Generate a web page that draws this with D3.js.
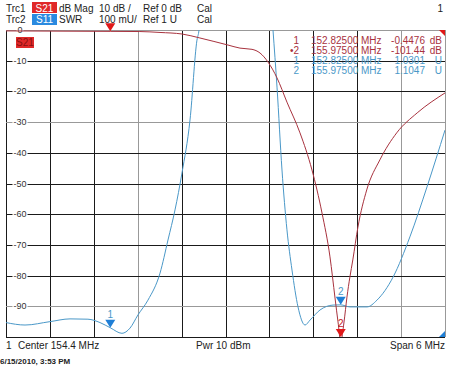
<!DOCTYPE html>
<html>
<head>
<meta charset="utf-8">
<script src="https://cdn.jsdelivr.net/npm/d3@7"></script>
<style>
  body { margin: 0; background: #fff; }
  svg { display: block; font-family: "Liberation Sans", Arial, sans-serif; }
</style>
</head>
<body>
<div id="chart"></div>
<script>
// S21 trace, frequency (MHz) and dB
const s21Freq = [151.4, 152.825, 153.23, 153.505, 153.805, 154.05, 154.434, 154.598, 154.762, 154.872,
    154.98, 155.104, 155.24, 155.418, 155.582, 155.719, 155.828, 155.897, 155.938, 155.975,
    156.02, 156.06, 156.10, 156.14, 156.21, 156.33, 156.51, 156.74, 157.02, 157.4];
const s21Db = [-0.3, -0.45, -0.5, -0.8, -1.3, -2.6, -4.9, -5.9, -6.3, -7.5,
    -10.4, -15.6, -23.5, -33.5, -45.6, -59.6, -73.9, -87.3, -95.1, -101.44,
    -95.1, -87, -80.5, -74.9, -64.2, -52.1, -42.3, -33.5, -27, -20.5];

// S11 trace, frequency (MHz) and SWR
const s11Freq = [151.4, 151.66, 152.0, 152.275, 152.52, 152.685, 152.825, 152.985, 153.095, 153.204,
    153.34, 153.505, 153.614, 153.71, 153.805, 153.915, 154.01, 154.038, 154.1, 154.5,
    154.95, 155.049, 155.104, 155.172, 155.24, 155.309, 155.391, 155.487, 155.555, 155.692,
    155.87, 155.975, 156.10, 156.334, 156.47, 156.69, 156.92, 157.154, 157.4];
const s11Swr = [1.047, 1.039, 1.050, 1.059, 1.058, 1.047, 1.0301, 1.012, 1.029, 1.072,
    1.12, 1.208, 1.316, 1.414, 1.534, 1.707, 1.967, 2.0, 2.25, 3.0,
    2.3, 2.0, 1.814, 1.544, 1.349, 1.218, 1.098, 1.039, 1.055, 1.088,
    1.104, 1.1047, 1.098, 1.098, 1.12, 1.195, 1.326, 1.489, 1.674];

const dbTicks = [0, -10, -20, -30, -40, -50, -60, -70, -80, -90];
const markerFreq = [152.825, 155.975];
const s21MarkerDb = [-0.4476, -101.44];
const s11MarkerSwr = [1.0301, 1.1047];

const width = 450, height = 374;
const pLeft = 6, pRight = 445, pTop = 30, pBottom = 337;

const red = "#a8323e", blue = "#4a98c8";

const svg = d3.select("#chart").append("svg")
    .attr("width", width)
    .attr("height", height);

svg.append("rect").attr("width", width).attr("height", height).attr("fill", "#fff");

const x = d3.scaleLinear().domain([151.4, 157.4]).range([pLeft, pRight]);
const yDb = d3.scaleLinear().domain([-100, 0]).range([pBottom, pTop]);
const ySwr = d3.scaleLinear().domain([1, 2]).range([pBottom, pTop]);

// grid
const grid = svg.append("g");
const xGrid = d3.range(11).map(i => 151.4 + i * 0.6);
grid.selectAll(".vline")
    .data(xGrid)
    .enter()
    .append("line")
    .attr("x1", d => Math.round(x(d)) + 0.5)
    .attr("x2", d => Math.round(x(d)) + 0.5)
    .attr("y1", pTop)
    .attr("y2", pBottom)
    .attr("stroke", (d, i) => (i === 3 || i === 9 || i === 10) ? "#999" : "#1a1a1a")
    .attr("stroke-width", 1);

grid.selectAll(".hline")
    .data(d3.range(0, -101, -10))
    .enter()
    .append("line")
    .attr("x1", pLeft)
    .attr("x2", pRight)
    .attr("y1", d => Math.round(yDb(d)) + 0.5)
    .attr("y2", d => Math.round(yDb(d)) + 0.5)
    .attr("stroke", d => (d === -30 || d === -90 || d === 0) ? "#999" : "#1a1a1a")
    .attr("stroke-width", 1);

// y labels
const yLab = svg.append("g");
dbTicks.forEach(d => {
    const t = yLab.append("text")
        .attr("x", 20)
        .attr("y", yDb(d) + 3)
        .attr("text-anchor", "middle")
        .attr("font-size", 9)
        .attr("fill", "#333")
        .text(d === 0 ? "0" : "-" + Math.abs(d));
    const bb = t.node().getBBox();
    yLab.insert("rect", "text")
        .attr("x", bb.x - 1)
        .attr("y", bb.y + 1)
        .attr("width", bb.width + 2)
        .attr("height", bb.height - 2)
        .attr("fill", "#fff");
});

// traces
svg.append("clipPath").attr("id", "plot")
    .append("rect")
    .attr("x", pLeft).attr("y", pTop)
    .attr("width", pRight - pLeft).attr("height", pBottom - pTop);

const line = d3.line().curve(d3.curveMonotoneX);

svg.append("path")
    .attr("clip-path", "url(#plot)")
    .attr("d", line(s11Freq.map((f, i) => [x(f), ySwr(s11Swr[i])])))
    .attr("fill", "none")
    .attr("stroke", blue)
    .attr("stroke-width", 1);

svg.append("path")
    .attr("clip-path", "url(#plot)")
    .attr("d", line(s21Freq.map((f, i) => [x(f), yDb(s21Db[i])])))
    .attr("fill", "none")
    .attr("stroke", red)
    .attr("stroke-width", 1);

// markers
function tri(cx, tipY, color) {
    svg.append("path")
        .attr("d", `M${cx - 5},${tipY - 8}L${cx + 5},${tipY - 8}L${cx},${tipY}Z`)
        .attr("fill", color);
}
tri(x(markerFreq[0]), ySwr(s11MarkerSwr[0]), "#1f7fd6");
tri(x(markerFreq[1]), ySwr(s11MarkerSwr[1]), "#1f7fd6");
svg.append("text").attr("x", x(markerFreq[0])).attr("y", ySwr(s11MarkerSwr[0]) - 10)
    .attr("text-anchor", "middle").attr("font-size", 10).attr("fill", blue).text("1");
svg.append("text").attr("x", x(markerFreq[1])).attr("y", ySwr(s11MarkerSwr[1]) - 10)
    .attr("text-anchor", "middle").attr("font-size", 10).attr("fill", blue).text("2");

tri(x(markerFreq[0]), Math.max(pTop, yDb(s21MarkerDb[0])), "#e01818");
const m2y = Math.min(pBottom, yDb(s21MarkerDb[1]));
tri(x(markerFreq[1]), m2y, "#e01818");
svg.append("text").attr("x", x(markerFreq[1])).attr("y", m2y - 10)
    .attr("text-anchor", "middle").attr("font-size", 10).attr("fill", "#c82020").text("2");

// corner indicators
svg.append("path").attr("d", `M${pRight - 6},${pTop}L${pRight},${pTop}L${pRight},${pTop + 6}Z`).attr("fill", "#e01818");
svg.append("path").attr("d", `M${pRight - 6},${pBottom}L${pRight},${pBottom}L${pRight},${pBottom - 6}Z`).attr("fill", "#1f7fd6");

// S21 tag in plot
svg.append("rect").attr("x", 16).attr("y", 37).attr("width", 18).attr("height", 11).attr("fill", "#e02828");
svg.append("text").attr("x", 25).attr("y", 46).attr("text-anchor", "middle")
    .attr("font-size", 10).attr("fill", "#8a1010").text("S21");

// header
const head = svg.append("g").attr("font-size", 10).attr("fill", "#222");
[["Trc1", 12], ["Trc2", 23]].forEach(([t, yy]) => head.append("text").attr("x", 6).attr("y", yy).text(t));
svg.append("rect").attr("x", 32).attr("y", 2).attr("width", 25).attr("height", 11).attr("fill", "#e02828");
svg.append("rect").attr("x", 32).attr("y", 14).attr("width", 25).attr("height", 11).attr("fill", "#2a8ae0");
svg.append("text").attr("x", 44.5).attr("y", 12).attr("text-anchor", "middle").attr("font-size", 10).attr("fill", "#fff").text("S21");
svg.append("text").attr("x", 44.5).attr("y", 23).attr("text-anchor", "middle").attr("font-size", 10).attr("fill", "#fff").text("S11");
const headCols = [59, 99, 143, 197];
const headRow1 = ["dB Mag", "10 dB /", "Ref 0 dB", "Cal"];
const headRow2 = ["SWR", "100 mU/", "Ref 1 U", "Cal"];
headRow1.forEach((t, i) => head.append("text").attr("x", headCols[i]).attr("y", 12).text(t));
headRow2.forEach((t, i) => head.append("text").attr("x", headCols[i]).attr("y", 23).text(t));
head.append("text").attr("x", 443).attr("y", 12).attr("text-anchor", "end").text("1");

// marker table
const table = svg.append("g").attr("font-size", 10);
const rows = [
    ["1", "152.82500", "-0.4476", "dB", red],
    ["\u20222", "155.97500", "-101.44", "dB", red],
    ["1", "152.82500", "1.0301", "U", blue],
    ["2", "155.97500", "1.1047", "U", blue]
];
rows.forEach((r, i) => {
    const yy = 43.5 + i * 10;
    table.append("text").attr("x", 299).attr("y", yy).attr("text-anchor", "end").attr("fill", r[4]).text(r[0]);
    table.append("text").attr("x", 311).attr("y", yy).attr("fill", r[4]).text(r[1]);
    table.append("text").attr("x", 361).attr("y", yy).attr("fill", r[4]).text("MHz");
    table.append("text").attr("x", 425).attr("y", yy).attr("text-anchor", "end").attr("fill", r[4]).text(r[2]);
    table.append("text").attr("x", 442).attr("y", yy).attr("text-anchor", "end").attr("fill", r[4]).text(r[3]);
});

// footer
const foot = svg.append("g").attr("font-size", 10).attr("fill", "#222");
foot.append("text").attr("x", 6).attr("y", 349).text("1");
foot.append("text").attr("x", 18).attr("y", 349).text("Center  154.4 MHz");
foot.append("text").attr("x", 196).attr("y", 349).text("Pwr  10 dBm");
foot.append("text").attr("x", 445).attr("y", 349).attr("text-anchor", "end").text("Span  6 MHz");
svg.append("text").attr("x", 0).attr("y", 364).attr("font-size", 8).attr("font-weight", "bold")
    .attr("fill", "#222").text("6/15/2010, 3:53 PM");
</script>
</body>
</html>
